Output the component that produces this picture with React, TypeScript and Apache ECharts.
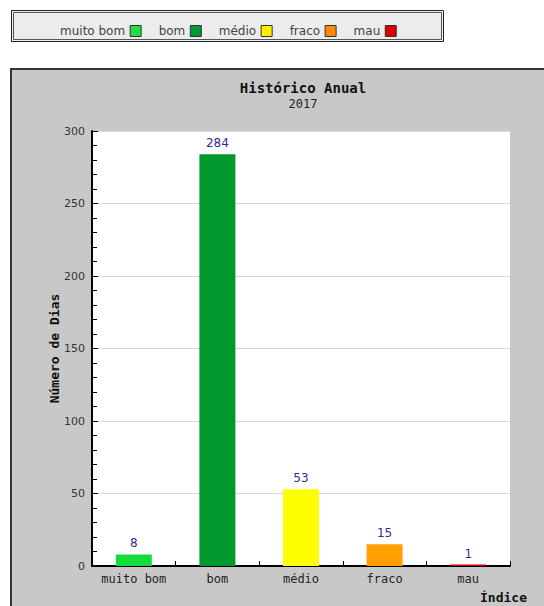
import React, { useEffect, useRef } from "react";
import * as echarts from "echarts";

const categories = ["muito bom", "bom", "médio", "fraco", "mau"];
const values = [8, 284, 53, 15, 1];
const barColors = ["#14dc3c", "#009a2e", "#ffff00", "#ffa000", "#cc0000"];
const legendColors = ["#22dd44", "#009933", "#ffee00", "#ff8800", "#dd0000"];
const yTicks = { min: 0, max: 300, interval: 50 };
const titleText = "Histórico Anual";
const subtitleText = "2017";
const yName = "Número de Dias";
const xName = "Índice";

const MONO = "'DejaVu Sans Mono', 'Liberation Mono', monospace";
const SANS = "'DejaVu Sans', Verdana, sans-serif";

export default function App() {
  const ref = useRef<HTMLDivElement>(null);
  useEffect(() => {
    if (!ref.current) return;
    const chart = echarts.init(ref.current, undefined, { renderer: "svg" });
    const series = categories.map((name, i) => ({
      name,
      type: "bar",
      stack: "all",
      barWidth: 36,
      itemStyle: { color: barColors[i] },
      data: values.map((v, j) => (j === i ? v : "-")),
      label: {
        show: true,
        position: "top",
        distance: 5,
        color: "#2e2e90",
        fontFamily: SANS,
        fontSize: 12,
      },
    }));
    chart.setOption({
      animation: false,
      backgroundColor: "#ffffff",
      graphic: [
        {
          type: "rect",
          z: -10,
          shape: { x: 11.5, y: 10.5, width: 432, height: 31 },
          style: { fill: "#ececec", stroke: "#222", lineWidth: 1 },
        },
        {
          type: "rect",
          z: -9,
          shape: { x: 13.5, y: 12.5, width: 428, height: 27 },
          style: { fill: "none", stroke: "#555", lineWidth: 1 },
        },
        {
          type: "rect",
          z: -10,
          shape: { x: 11, y: 69, width: 545, height: 550 },
          style: { fill: "#c8c8c8", stroke: "#333", lineWidth: 2 },
        },
        {
          type: "text",
          z: 10,
          style: {
            text: xName,
            x: 527,
            y: 597,
            align: "right",
            verticalAlign: "middle",
            font: `bold 13px ${MONO}`,
            fill: "#111",
          },
        },
      ],
      title: {
        text: titleText,
        subtext: subtitleText,
        left: 298,
        top: 76,
        textAlign: "center",
        itemGap: 3,
        textStyle: { fontFamily: MONO, fontWeight: "bold", fontSize: 14, color: "#111" },
        subtextStyle: { fontFamily: MONO, fontSize: 12, color: "#222" },
      },
      legend: {
        data: categories.map((name, i) => ({
          name,
          itemStyle: { color: legendColors[i], borderColor: "#333", borderWidth: 1 },
        })),
        left: 55,
        top: 20,
        align: "right",
        icon: "rect",
        itemWidth: 11,
        itemHeight: 11,
        itemGap: 17,
        selectedMode: false,
        textStyle: { fontFamily: SANS, fontSize: 12, color: "#444" },
      },
      grid: {
        left: 92,
        right: 34,
        top: 131,
        bottom: 40,
        show: true,
        backgroundColor: "#ffffff",
        borderWidth: 0,
      },
      xAxis: {
        type: "category",
        data: categories,
        boundaryGap: true,
        axisLine: { show: true, lineStyle: { color: "#000", width: 2 } },
        axisTick: { show: true, inside: true, length: 5, lineStyle: { color: "#000" } },
        axisLabel: {
          interval: 0,
          hideOverlap: false,
          fontFamily: MONO,
          fontSize: 12,
          color: "#222",
          margin: 7,
        },
        splitLine: { show: false },
      },
      yAxis: {
        type: "value",
        min: yTicks.min,
        max: yTicks.max,
        interval: yTicks.interval,
        name: yName,
        nameLocation: "middle",
        nameGap: 31,
        nameMoveOverlap: false,
        nameRotate: 90,
        nameTextStyle: { fontFamily: MONO, fontWeight: "bold", fontSize: 13, color: "#111" },
        axisLine: { show: true, lineStyle: { color: "#000", width: 2 } },
        axisTick: { show: true, inside: true, length: 6, lineStyle: { color: "#000" } },
        minorTick: { show: true, splitNumber: 5, length: 5, lineStyle: { color: "#000" } },
        axisLabel: { fontFamily: SANS, fontSize: 11, color: "#333", margin: 7 },
        splitLine: { show: true, lineStyle: { color: "#d8d8d8", width: 1 } },
      },
      series,
    });
    return () => chart.dispose();
  }, []);
  return (
    <div
      ref={ref}
      style={{ position: "fixed", left: 0, top: 0, width: 544, height: 606 }}
    />
  );
}
